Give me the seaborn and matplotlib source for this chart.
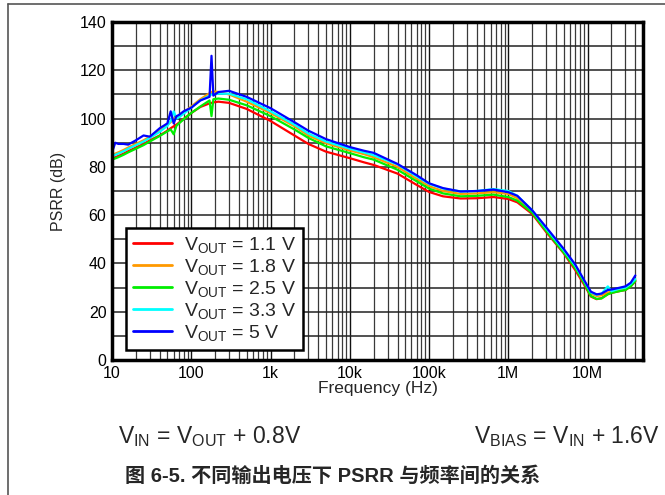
import numpy as np
import pandas as pd
import seaborn as sns
import matplotlib.pyplot as plt
from matplotlib.lines import Line2D
from matplotlib.ticker import FixedLocator, NullFormatter

# Frequency points (Hz), shared by all curves
freq = [10, 11, 12, 14, 16, 20, 25, 30, 40, 50, 55, 60, 65, 70, 80, 100, 130, 170, 180, 190,
        220, 300, 500, 1e3, 2e3, 3e3, 5e3, 1e4, 1.5e4, 2e4, 4e4, 7e4, 1e5, 1.5e5, 2.5e5, 4e5,
        6.5e5, 1e6, 1.3e6, 2e6, 3e6, 5e6, 7e6, 9e6, 1.1e7, 1.3e7, 1.5e7, 1.8e7, 2e7, 2.5e7,
        3e7, 3.5e7, 4e7]

# PSRR (dB)
psrr_1v1 = [83.5, 84, 84.5, 85.5, 86.5, 88, 89.5, 91, 93, 95, 96, 96.8, 97.5, 98.3, 99.8, 102.3,
            104.8, 106.3, 106.5, 106.7, 107, 106.5, 104, 99, 93, 89.5, 86.3, 83.6, 81.9, 80.8,
            77.2, 72.5, 69.6, 67.8, 66.9, 67, 67.5, 66.7, 65.3, 60.5, 53, 44.2, 37.2, 31.3,
            26.3, 25.2, 25.6, 27.3, 27.8, 28.5, 29, 30.5, 32.6]
psrr_1v8 = [84.5, 85.5, 86, 87, 88, 89.5, 91, 92.5, 95, 97.5, 98.5, 100, 100.5, 101, 102.5, 105,
            108, 110.5, 111, 111.3, 111, 110, 107, 102.3, 96.8, 93, 89.8, 86.8, 85.3, 84, 80,
            75, 72, 70, 68.8, 69, 69.5, 68.8, 67, 61.5, 54, 45, 38.5, 32.5, 27.5, 26.5, 26.8,
            28, 28.2, 29, 29.5, 31, 33]
psrr_2v5 = [83, 83.5, 84, 85, 86, 87.5, 89, 90.5, 92.8, 94.7, 95.5, 93.5, 97, 98, 99.7, 102.3,
            105, 107.5, 101, 108, 108.3, 107.8, 105.5, 101, 95.5, 92, 88.5, 85.7, 84, 83, 78.8,
            74, 71, 69, 67.8, 68, 68.5, 67.5, 66, 61, 53.5, 44.5, 38, 32, 26.5, 25.3, 25.5,
            27.2, 27.8, 28.5, 29, 30.5, 32.8]
psrr_3v3 = [84.4, 85, 85.5, 86.5, 87.5, 89, 90.5, 92, 94.5, 97, 99, 103, 100, 100.5, 102, 104.5,
            107.5, 109.5, 110, 110, 110.3, 110.3, 108, 103, 97.5, 93.8, 90.5, 87.5, 86, 84.8,
            81, 76, 73, 71, 69.8, 70, 70.8, 70, 68, 62, 54.5, 45.5, 39, 33, 28, 27, 27.5,
            30.5, 28.5, 29.5, 30, 31.5, 33.5]
psrr_5v = [86, 90, 89.5, 89.5, 89.2, 91, 93, 92.5, 96, 98, 103, 98, 101, 101.5, 103, 104.5,
           107.5, 109, 126, 109.5, 111, 111.5, 109, 104.3, 98.5, 95, 91.5, 88.2, 86.7, 85.8,
           81.2, 76.5, 73.2, 71.2, 69.8, 70, 70.6, 69.5, 68, 62, 55, 46, 39.5, 33.2, 28.3,
           27.2, 27.5, 29, 29.2, 29.9, 30.5, 32, 35]

series_labels = [r"V$_{\mathregular{OUT}}$ = 1.1 V", r"V$_{\mathregular{OUT}}$ = 1.8 V",
                 r"V$_{\mathregular{OUT}}$ = 2.5 V", r"V$_{\mathregular{OUT}}$ = 3.3 V",
                 r"V$_{\mathregular{OUT}}$ = 5 V"]
series_colors = ["#ff0000", "#ff9900", "#00ee00", "#00ffff", "#0000ff"]
xtick_vals = [10, 100, 1e3, 1e4, 1e5, 1e6, 1e7]
xtick_labels = ["10", "100", "1k", "10k", "100k", "1M", "10M"]

frames = []
for lab, vals in zip(series_labels, [psrr_1v1, psrr_1v8, psrr_2v5, psrr_3v3, psrr_5v]):
    frames.append(pd.DataFrame({"freq": freq, "psrr": vals, "series": lab}))
df = pd.concat(frames, ignore_index=True)

sns.set_style("white")
plt.rcParams["font.family"] = ["Liberation Sans", "Noto Sans CJK SC"]
plt.rcParams["mathtext.fontset"] = "custom"
plt.rcParams["mathtext.rm"] = "Liberation Sans"
plt.rcParams["mathtext.default"] = "regular"

fig = plt.figure(figsize=(6.65, 4.95), dpi=100)
ax = fig.add_axes([112 / 665, 1 - 360 / 495, 531 / 665, 338 / 495])

sns.lineplot(data=df, x="freq", y="psrr", hue="series", palette=series_colors,
             hue_order=series_labels, estimator=None, sort=False, linewidth=1.6,
             legend=False, ax=ax)

ax.set_xscale("log")
ax.set_xlim(10, 5e7)
ax.set_ylim(0, 140)

# grid: every 1..9 per decade on x, every 10 dB on y
minor_x = [m * 10 ** d for d in range(1, 8) for m in range(2, 10) if m * 10 ** d < 5e7]
for xv in minor_x:
    ax.axvline(xv, color="#3a3a3a", lw=0.9, zorder=0)
for xv in xtick_vals:
    ax.axvline(xv, color="#111111", lw=1.0, zorder=0)
for yv in range(10, 140, 10):
    ax.axhline(yv, color="#222222", lw=1.1, zorder=0)

ax.xaxis.set_major_locator(FixedLocator(xtick_vals))
ax.set_xticklabels(xtick_labels)
ax.xaxis.set_minor_formatter(NullFormatter())
ax.set_yticks(range(0, 141, 20))
ax.tick_params(axis="both", which="both", length=0, labelsize=11.5, pad=4, colors="black")

for sp in ax.spines.values():
    sp.set_visible(True)
    sp.set_color("black")
    sp.set_linewidth(2.5)

ax.set_xlabel("Frequency (Hz)", fontsize=12.5, labelpad=0)
ax.set_ylabel("PSRR (dB)", fontsize=11.5, labelpad=10)

handles = [Line2D([], [], color=c, lw=2) for c in series_colors]
leg = ax.legend(handles, series_labels, loc="lower left", bbox_to_anchor=(0.027, 0.03),
                borderaxespad=0, fontsize=14, frameon=True, fancybox=False,
                handlelength=2.0, handletextpad=0.6, labelspacing=0.1, borderpad=0.35)
leg.get_frame().set_edgecolor("black")
leg.get_frame().set_linewidth(1.8)
leg.get_frame().set_alpha(1)

fig.text(118 / 665, 1 - 437 / 495, r"V$_{\mathregular{IN}}$ = V$_{\mathregular{OUT}}$ + 0.8V",
         fontsize=16.5, ha="left", va="center")
fig.text(660 / 665, 1 - 437 / 495, r"V$_{\mathregular{BIAS}}$ = V$_{\mathregular{IN}}$ + 1.6V",
         fontsize=16.5, ha="right", va="center")
fig.text(333 / 665, 1 - 476 / 495, "图 6-5. 不同输出电压下 PSRR 与频率间的关系",
         fontsize=14.5, fontweight="bold", ha="center", va="center",
         family=["Liberation Sans", "Noto Sans CJK SC"])

# page frame lines at top and left
fig.add_artist(Line2D([8 / 665, 1], [1 - 4 / 495, 1 - 4 / 495], transform=fig.transFigure,
                      color="#555555", lw=1.2))
fig.add_artist(Line2D([8 / 665, 8 / 665], [0, 1 - 4 / 495], transform=fig.transFigure,
                      color="#555555", lw=1.2))

fig.savefig("out.png", dpi=100)
